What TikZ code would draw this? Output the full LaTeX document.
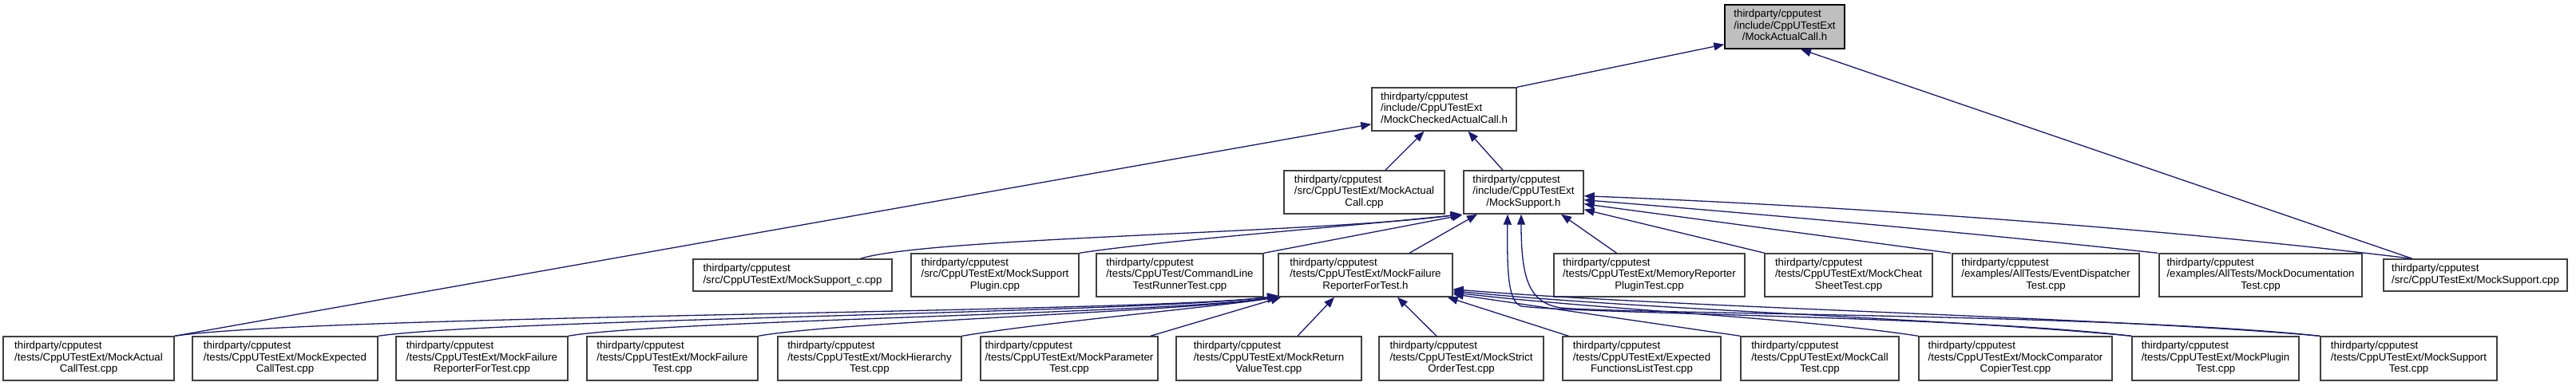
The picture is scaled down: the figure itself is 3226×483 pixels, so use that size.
\documentclass[tikz,border=0pt]{standalone}
\usepackage{fontspec}
\setmainfont{Liberation Sans}
\usetikzlibrary{arrows.meta}
\definecolor{nodeborder}{HTML}{404040}
\definecolor{edgeblue}{HTML}{191970}
\definecolor{rootfill}{HTML}{BFBFBF}
\newcommand{\threel}[3]{\begin{tabular}{@{}l@{}}#1\\#2\\\multicolumn{1}{@{}c@{}}{#3}\end{tabular}}
\newcommand{\twol}[2]{\begin{tabular}{@{}l@{}}#1\\\multicolumn{1}{@{}c@{}}{#2}\end{tabular}}
\tikzset{
  file/.style={draw=nodeborder, line width=1.4pt, fill=white, inner sep=0pt, rectangle,
    minimum height=54pt, font=\fontsize{13.3}{14.4}\selectfont},
  dep/.style={draw=edgeblue, line width=1.3pt, -{Triangle[length=13pt,width=10pt]}},
}
\begin{document}
\begin{tikzpicture}[x=1pt,y=1pt]
\fill[white] (0,0) rectangle (3226,-483);
\useasboundingbox (0,0) rectangle (3226,-483);
% level 0
\node[file, fill=rootfill, draw=black, minimum width=150pt, minimum height=55pt] (root) at (2235,-33.5)
  {\threel{thirdparty/cpputest}{/include/CppUTestExt}{/MockActualCall.h}};
% level 1
\node[file, minimum width=181pt] (mcac) at (1808.5,-137)
  {\threel{thirdparty/cpputest}{/include/CppUTestExt}{/MockCheckedActualCall.h}};
% level 2
\node[file, minimum width=201pt] (macpp) at (1708.5,-241)
  {\threel{thirdparty/cpputest}{/src/CppUTestExt/MockActual}{Call.cpp}};
\node[file, minimum width=150pt] (msh) at (1908,-241)
  {\threel{thirdparty/cpputest}{/include/CppUTestExt}{/MockSupport.h}};
% level 3
\node[file, minimum width=249pt, minimum height=40pt] (msc) at (992.5,-345)
  {\twol{thirdparty/cpputest}{/src/CppUTestExt/MockSupport\_c.cpp}};
\node[file, minimum width=210pt] (msp) at (1246,-345)
  {\threel{thirdparty/cpputest}{/src/CppUTestExt/MockSupport}{Plugin.cpp}};
\node[file, minimum width=209pt] (cltr) at (1477.5,-345)
  {\threel{thirdparty/cpputest}{/tests/CppUTest/CommandLine}{TestRunnerTest.cpp}};
\node[file, minimum width=218pt] (mfrh) at (1710,-345)
  {\threel{thirdparty/cpputest}{/tests/CppUTestExt/MockFailure}{ReporterForTest.h}};
\node[file, minimum width=239pt] (mrp) at (2065.5,-345)
  {\threel{thirdparty/cpputest}{/tests/CppUTestExt/MemoryReporter}{PluginTest.cpp}};
\node[file, minimum width=210pt] (mcs) at (2315,-345)
  {\threel{thirdparty/cpputest}{/tests/CppUTestExt/MockCheat}{SheetTest.cpp}};
\node[file, minimum width=234pt] (edt) at (2562,-345)
  {\threel{thirdparty/cpputest}{/examples/AllTests/EventDispatcher}{Test.cpp}};
\node[file, minimum width=254pt] (mdt) at (2831,-345)
  {\threel{thirdparty/cpputest}{/examples/AllTests/MockDocumentation}{Test.cpp}};
\node[file, minimum width=230pt, minimum height=40pt] (mscpp) at (3100,-345)
  {\twol{thirdparty/cpputest}{/src/CppUTestExt/MockSupport.cpp}};
% level 4
\node[file, minimum width=214pt, minimum height=55pt] (t1) at (111,-449.5)
  {\threel{thirdparty/cpputest}{/tests/CppUTestExt/MockActual}{CallTest.cpp}};
\node[file, minimum width=232pt, minimum height=55pt] (t2) at (357,-449.5)
  {\threel{thirdparty/cpputest}{/tests/CppUTestExt/MockExpected}{CallTest.cpp}};
\node[file, minimum width=215pt, minimum height=55pt] (t3) at (603.5,-449.5)
  {\threel{thirdparty/cpputest}{/tests/CppUTestExt/MockFailure}{ReporterForTest.cpp}};
\node[file, minimum width=214pt, minimum height=55pt] (t4) at (842,-449.5)
  {\threel{thirdparty/cpputest}{/tests/CppUTestExt/MockFailure}{Test.cpp}};
\node[file, minimum width=230pt, minimum height=55pt] (t5) at (1089,-449.5)
  {\threel{thirdparty/cpputest}{/tests/CppUTestExt/MockHierarchy}{Test.cpp}};
\node[file, minimum width=222pt, minimum height=55pt] (t6) at (1339,-449.5)
  {\threel{thirdparty/cpputest}{/tests/CppUTestExt/MockParameter}{Test.cpp}};
\node[file, minimum width=232pt, minimum height=55pt] (t7) at (1589,-449.5)
  {\threel{thirdparty/cpputest}{/tests/CppUTestExt/MockReturn}{ValueTest.cpp}};
\node[file, minimum width=206pt, minimum height=55pt] (t8) at (1830,-449.5)
  {\threel{thirdparty/cpputest}{/tests/CppUTestExt/MockStrict}{OrderTest.cpp}};
\node[file, minimum width=198pt, minimum height=55pt] (t9) at (2056,-449.5)
  {\threel{thirdparty/cpputest}{/tests/CppUTestExt/Expected}{FunctionsListTest.cpp}};
\node[file, minimum width=198pt, minimum height=55pt] (t10) at (2279,-449.5)
  {\threel{thirdparty/cpputest}{/tests/CppUTestExt/MockCall}{Test.cpp}};
\node[file, minimum width=242pt, minimum height=55pt] (t11) at (2524,-449.5)
  {\threel{thirdparty/cpputest}{/tests/CppUTestExt/MockComparator}{CopierTest.cpp}};
\node[file, minimum width=209pt, minimum height=55pt] (t12) at (2774.5,-449.5)
  {\threel{thirdparty/cpputest}{/tests/CppUTestExt/MockPlugin}{Test.cpp}};
\node[file, minimum width=221pt, minimum height=55pt] (t13) at (3016.5,-449.5)
  {\threel{thirdparty/cpputest}{/tests/CppUTestExt/MockSupport}{Test.cpp}};
% edges into root
\draw[dep] (mcac.north east) -- ([yshift=6pt]root.south west);
\draw[dep] ([xshift=-79pt]mscpp.north) -- ([xshift=20pt]root.south);
% edges into MockCheckedActualCall.h
\draw[dep] ([xshift=26.5pt]macpp.north) -- ([xshift=-25pt]mcac.south);
\draw[dep] ([xshift=-26pt]msh.north) -- ([xshift=30pt]mcac.south);
\draw[dep] (t1.north east) -- ([yshift=9pt]mcac.south west);
% edges into MockSupport.h
\draw[dep] ([xshift=85pt]msc.north) .. controls (1160,-298) and (1650,-292) .. ([xshift=-3pt]msh.south west);
\draw[dep] (msp.north east) .. controls (1450,-302) and (1700,-283) .. ([xshift=-2pt]msh.south west);
\draw[dep] (cltr.north east) -- ([xshift=-1pt,yshift=-1pt]msh.south west);
\draw[dep] ([xshift=55pt]mfrh.north) -- ([xshift=-58pt]msh.south);
\draw[dep] ([xshift=-41pt]mrp.north) -- ([xshift=47pt]msh.south);
\draw[dep] ([xshift=-105pt]mcs.north) -- ([yshift=6pt]msh.south east);
\draw[dep] ([xshift=-119pt]edt.north) -- ([yshift=13pt]msh.south east);
\draw[dep] ([xshift=-129pt]mdt.north) .. controls (2450,-290) and (2200,-268) .. ([yshift=18pt]msh.south east);
\draw[dep] ([xshift=-79pt]mscpp.north) .. controls (2700,-285) and (2300,-258) .. ([yshift=23pt]msh.south east);
\draw[dep] (t12.north west) .. controls (2450,-396) and (1990,-394) .. (1905,-384)
  .. controls (1890,-378) and (1887,-350) .. ([xshift=-20pt]msh.south);
\draw[dep] (t13.north west) .. controls (2650,-394) and (2050,-394) .. (1955,-386)
  .. controls (1915,-380) and (1905,-350) .. ([xshift=-3pt]msh.south);
% edges into MockFailureReporterForTest.h
\draw[dep] (t1.north east) .. controls (400,-395) and (1450,-392) .. ([yshift=2pt]mfrh.south west);
\draw[dep] (t2.north east) .. controls (620,-400) and (1450,-392) .. ([yshift=2pt]mfrh.south west);
\draw[dep] (t3.north east) .. controls (820,-402) and (1470,-393) .. ([yshift=1pt]mfrh.south west);
\draw[dep] (t4.north east) .. controls (1050,-403) and (1500,-390) .. ([yshift=1pt]mfrh.south west);
\draw[dep] (t5.north east) .. controls (1300,-405) and (1520,-385) .. (mfrh.south west);
\draw[dep] ([xshift=-10pt]t6.north east) -- ([xshift=4pt]mfrh.south west);
\draw[dep] ([xshift=36pt]t7.north) -- ([xshift=-39pt]mfrh.south);
\draw[dep] ([xshift=-31pt]t8.north) -- ([xshift=40pt]mfrh.south);
\draw[dep] ([xshift=8pt]t9.north west) -- ([xshift=-7pt]mfrh.south east);
\draw[dep] (t10.north west) -- ([yshift=4pt]mfrh.south east);
\draw[dep] (t11.north west) .. controls (2250,-398) and (2000,-388) .. ([yshift=6pt]mfrh.south east);
\draw[dep] (t12.north west) .. controls (2450,-400) and (2050,-388) .. ([yshift=8pt]mfrh.south east);
\draw[dep] (t13.north west) .. controls (2650,-398) and (2100,-386) .. ([yshift=10pt]mfrh.south east);
\end{tikzpicture}
\end{document}
